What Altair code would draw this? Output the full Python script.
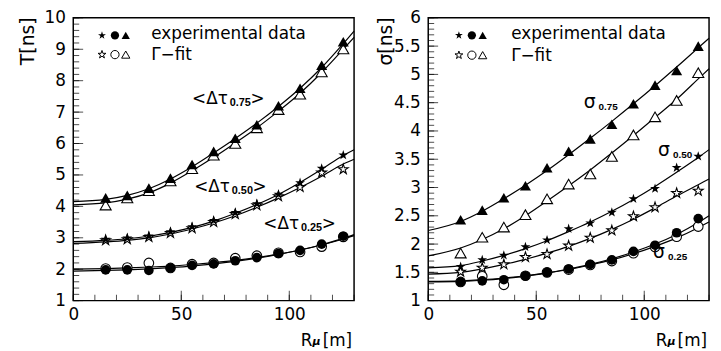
import altair as alt
import pandas as pd

FONT = "DejaVu Sans"
SUBFONT = "Liberation Sans"

# muon distance R_mu [m] of the measured points, and the nodes used to draw the fit curves
R = [15, 25, 35, 45, 55, 65, 75, 85, 95, 105, 115, 125]
RC = [0, 15, 25, 35, 45, 55, 65, 75, 85, 95, 105, 115, 125, 130]

# ---- left panel: <Delta tau> T[ns]
t75_exp = [4.27, 4.35, 4.58, 4.90, 5.33, 5.75, 6.17, 6.60, 7.20, 7.76, 8.49, 9.24]
t75_fit = [4.04, 4.27, 4.50, 4.81, 5.20, 5.63, 6.00, 6.50, 7.08, 7.57, 8.28, 9.01]
t50_exp = [2.95, 2.99, 3.05, 3.19, 3.35, 3.55, 3.80, 4.08, 4.38, 4.75, 5.21, 5.63]
t50_fit = [2.92, 2.95, 3.02, 3.15, 3.30, 3.50, 3.75, 4.03, 4.32, 4.61, 5.07, 5.18]
t25_exp = [1.98, 1.98, 1.96, 2.04, 2.12, 2.17, 2.27, 2.37, 2.50, 2.60, 2.80, 3.05]
t25_fit = [2.02, 2.05, 2.20, 2.04, 2.16, 2.20, 2.35, 2.43, 2.52, 2.55, 2.72, 3.03]

c_t75_exp = [4.15, 4.22, 4.35, 4.56, 4.87, 5.26, 5.70, 6.16, 6.65, 7.18, 7.76, 8.42, 9.18, 9.58]
c_t75_fit = [4.05, 4.11, 4.23, 4.43, 4.74, 5.13, 5.56, 6.02, 6.50, 7.03, 7.60, 8.26, 9.00, 9.38]
c_t50_exp = [2.88, 2.92, 2.97, 3.05, 3.17, 3.33, 3.53, 3.78, 4.06, 4.38, 4.76, 5.18, 5.62, 5.80]
c_t50_fit = [2.82, 2.87, 2.92, 3.00, 3.12, 3.28, 3.47, 3.70, 3.97, 4.27, 4.60, 4.96, 5.35, 5.50]
c_t25_exp = [1.94, 1.96, 1.98, 2.01, 2.05, 2.10, 2.17, 2.25, 2.35, 2.47, 2.61, 2.78, 2.98, 3.10]
c_t25_fit = [2.00, 2.02, 2.04, 2.07, 2.10, 2.15, 2.21, 2.28, 2.37, 2.48, 2.61, 2.77, 2.96, 3.07]

# ---- right panel: sigma [ns]
s75_exp = [2.43, 2.60, 2.82, 3.03, 3.35, 3.64, 3.86, 4.12, 4.48, 4.81, 5.07, 5.50]
s75_fit = [1.84, 2.12, 2.30, 2.52, 2.80, 3.06, 3.24, 3.55, 3.93, 4.25, 4.54, 5.03]
s50_exp = [1.60, 1.72, 1.80, 1.95, 2.07, 2.27, 2.37, 2.56, 2.80, 2.98, 3.35, 3.55]
s50_fit = [1.51, 1.58, 1.64, 1.77, 1.82, 1.97, 2.11, 2.24, 2.49, 2.65, 2.90, 2.94]
s25_exp = [1.33, 1.35, 1.37, 1.44, 1.50, 1.56, 1.64, 1.72, 1.87, 1.98, 2.20, 2.45]
s25_fit = [1.33, 1.43, 1.28, 1.44, 1.50, 1.55, 1.63, 1.70, 1.84, 1.95, 2.13, 2.31]

c_s75_exp = [2.24, 2.40, 2.58, 2.80, 3.04, 3.30, 3.58, 3.87, 4.17, 4.48, 4.80, 5.13, 5.47, 5.64]
c_s75_fit = [1.79, 1.93, 2.08, 2.27, 2.50, 2.76, 3.03, 3.31, 3.61, 3.92, 4.24, 4.56, 4.92, 5.10]
c_s50_exp = [1.58, 1.62, 1.70, 1.80, 1.92, 2.06, 2.22, 2.39, 2.58, 2.79, 3.02, 3.27, 3.53, 3.67]
c_s50_fit = [1.47, 1.50, 1.56, 1.64, 1.73, 1.84, 1.96, 2.10, 2.26, 2.44, 2.64, 2.85, 3.05, 3.15]
c_s25_exp = [1.33, 1.34, 1.36, 1.39, 1.43, 1.49, 1.56, 1.64, 1.74, 1.86, 2.00, 2.17, 2.38, 2.50]
c_s25_fit = [1.34, 1.35, 1.37, 1.40, 1.44, 1.49, 1.55, 1.63, 1.72, 1.83, 1.96, 2.11, 2.29, 2.39]

# ---- axes
X_LABELS = [0, 50, 100]
X_MINOR = [0, 10, 20, 30, 40, 50, 60, 70, 80, 90, 100, 110, 120, 130]
T_LABELS = [1, 2, 3, 4, 5, 6, 7, 8, 9, 10]
T_MINOR = [round(1 + 0.2 * i, 1) for i in range(46)]
S_LABELS = [1, 1.5, 2, 2.5, 3, 3.5, 4, 4.5, 5, 5.5, 6]
S_MINOR = [round(1 + 0.1 * i, 1) for i in range(51)]

STAR = ("M0,-1L0.225,-0.309L0.951,-0.309L0.363,0.118L0.588,0.809L0,0.382"
        "L-0.588,0.809L-0.363,0.118L-0.951,-0.309L-0.225,-0.309Z")
GROUPS = ["0.25", "0.50", "0.75"]
SHAPES = ["circle", STAR, "triangle-up"]
SIZES = [95, 125, 95]

SUBS = ["0.75", "0.50", "0.25"]
LEG_TEXT = ["experimental data", "\u0393\u2212fit"]


def points_df(series):
    rows = []
    for group, kind, ys in series:
        for x, y in zip(R, ys):
            rows.append({"x": x, "y": y, "group": group, "kind": kind})
    return pd.DataFrame(rows)


def curves_df(curves):
    rows = []
    for name, ys in curves:
        for x, y in zip(RC, ys):
            rows.append({"x": x, "y": y, "curve": name})
    return pd.DataFrame(rows)


def panel(points, curves, ydomain, ylabels, ymajor, yminor, ytitle, title_x,
          ann_x, ann_y, main_text, main_size, sub_dx, sub_size, close_dx,
          leg_sx, leg_sy, leg_tx, leg_ty):
    xs = alt.Scale(domain=[0, 130], nice=False, zero=False)
    ys = alt.Scale(domain=ydomain, nice=False, zero=False)
    xaxis = alt.Axis(values=X_LABELS, ticks=False, tickSize=0, domain=False, grid=False,
                     labelFont=FONT, labelFontSize=17, labelColor="black", labelPadding=6,
                     labelFlush=False, labelOverlap=False, title=None)
    yaxis = alt.Axis(values=ylabels, format="~r", ticks=False, tickSize=0, domain=False,
                     grid=False, labelFont=FONT, labelFontSize=17, labelColor="black",
                     labelPadding=8, labelFlush=False, labelOverlap=False, title=ytitle,
                     titleFont=FONT, titleFontSize=19, titleFontWeight="normal",
                     titleColor="black", titleAngle=270, titleAlign="right",
                     titleBaseline="alphabetic", titleX=title_x, titleY=-1)
    X = alt.X("x:Q", scale=xs, axis=xaxis)
    Y = alt.Y("y:Q", scale=ys, axis=yaxis)
    shape = alt.Shape("group:N", scale=alt.Scale(domain=GROUPS, range=SHAPES), legend=None)
    size = alt.Size("group:N", scale=alt.Scale(domain=GROUPS, range=SIZES), legend=None)

    layers = []
    layers.append(alt.Chart(curves).mark_line(color="black", strokeWidth=1.2,
                                              interpolate="monotone")
                  .encode(X, Y, detail="curve:N"))
    layers.append(alt.Chart(points).transform_filter(alt.datum.kind == "fit")
                  .mark_point(filled=True, fill="white", stroke="black", strokeWidth=1.1, opacity=1)
                  .encode(X, Y, shape=shape, size=size))
    layers.append(alt.Chart(points).transform_filter(alt.datum.kind == "exp")
                  .mark_point(filled=True, color="black", opacity=1)
                  .encode(X, Y, shape=shape, size=size))

    # inward ROOT-style ticks, placed through the scales
    for vals, L in ((X_MINOR, 6), (X_LABELS, 10)):
        df = pd.DataFrame({"x": vals, "y": [ydomain[0]] * len(vals)})
        layers.append(alt.Chart(df)
                      .mark_tick(orient="vertical", color="black", thickness=1, size=L, yOffset=-L / 2)
                      .encode(X, Y))
    for vals, L in ((yminor, 6), (ymajor, 10)):
        df = pd.DataFrame({"x": [0] * len(vals), "y": vals})
        layers.append(alt.Chart(df)
                      .mark_tick(orient="horizontal", color="black", thickness=1, size=L, xOffset=L / 2)
                      .encode(X, Y))

    def text(xv, yv, texts, dx=0, dy=0, fsize=17, font=FONT, weight="normal",
             align="left", style="normal"):
        df = pd.DataFrame({"x": xv, "y": yv, "t": texts})
        return (alt.Chart(df)
                .mark_text(font=font, fontSize=fsize, fontWeight=weight, fontStyle=style,
                           align=align, baseline="alphabetic", color="black", dx=dx, dy=dy)
                .encode(X, Y, text="t:N"))

    layers.append(text(ann_x, ann_y, [main_text] * 3, fsize=main_size))
    layers.append(text(ann_x, ann_y, SUBS, dx=sub_dx, dy=2, fsize=sub_size,
                       font=SUBFONT, weight="bold"))
    if close_dx is not None:
        layers.append(text(ann_x, ann_y, [">"] * 3, dx=close_dx, fsize=main_size))

    leg = pd.DataFrame({
        "x": leg_sx + leg_sx,
        "y": [leg_sy[0]] * 3 + [leg_sy[1]] * 3,
        "group": ["0.50", "0.25", "0.75"] * 2,
        "kind": ["exp"] * 3 + ["fit"] * 3,
    })
    layers.append(alt.Chart(leg).transform_filter(alt.datum.kind == "fit")
                  .mark_point(filled=True, fill="white", stroke="black", strokeWidth=1.0,
                              opacity=1, size=70)
                  .encode(X, Y, shape=shape))
    layers.append(alt.Chart(leg).transform_filter(alt.datum.kind == "exp")
                  .mark_point(filled=True, color="black", opacity=1, size=70)
                  .encode(X, Y, shape=shape))
    layers.append(text([leg_tx, leg_tx], leg_ty, LEG_TEXT, fsize=17))

    layers.append(text([130], [ydomain[0]], ["R"], dx=-54, dy=46, fsize=17))
    layers.append(text([130], [ydomain[0]], ["\u03bc"], dx=-42, dy=45, fsize=11,
                       weight="bold", style="italic"))
    layers.append(text([130], [ydomain[0]], ["[m]"], dx=-2, dy=46, fsize=17, align="right"))

    return alt.layer(*layers).properties(width=284, height=286)


left_pts = points_df([("0.75", "exp", t75_exp), ("0.75", "fit", t75_fit),
                      ("0.50", "exp", t50_exp), ("0.50", "fit", t50_fit),
                      ("0.25", "exp", t25_exp), ("0.25", "fit", t25_fit)])
left_curves = curves_df([("t75e", c_t75_exp), ("t75f", c_t75_fit), ("t50e", c_t50_exp),
                         ("t50f", c_t50_fit), ("t25e", c_t25_exp), ("t25f", c_t25_fit)])
right_pts = points_df([("0.75", "exp", s75_exp), ("0.75", "fit", s75_fit),
                       ("0.50", "exp", s50_exp), ("0.50", "fit", s50_fit),
                       ("0.25", "exp", s25_exp), ("0.25", "fit", s25_fit)])
right_curves = curves_df([("s75e", c_s75_exp), ("s75f", c_s75_fit), ("s50e", c_s50_exp),
                          ("s50f", c_s50_fit), ("s25e", c_s25_exp), ("s25f", c_s25_fit)])

left = panel(left_pts, left_curves, [1, 10], T_LABELS, T_LABELS, T_MINOR, "T[ns]", -40,
             [55.0, 56.0, 88.0], [7.25, 4.47, 3.28], "<\u0394\u03c4", 17, 38, 11, 59,
             [13.3, 19.3, 24.3], [9.44, 8.83], 36.1, [9.32, 8.65])
right = panel(right_pts, right_curves, [1, 6], S_LABELS, S_LABELS, S_MINOR, "\u03c3[ns]", -37,
              [72.0, 106.4, 104.1], [4.40, 3.56, 1.75], "\u03c3", 19, 15, 10, None,
              [14.2, 20.2, 25.2], [5.69, 5.34], 38.4, [5.62, 5.24])

chart = (alt.hconcat(left, right, spacing=18)
         .properties(padding={"left": 10, "top": -2, "right": 0, "bottom": 0}, background="white")
         .configure_view(stroke="black", strokeWidth=1.5))

chart.save("out.html", embed_options={"renderer": "svg", "actions": False})
